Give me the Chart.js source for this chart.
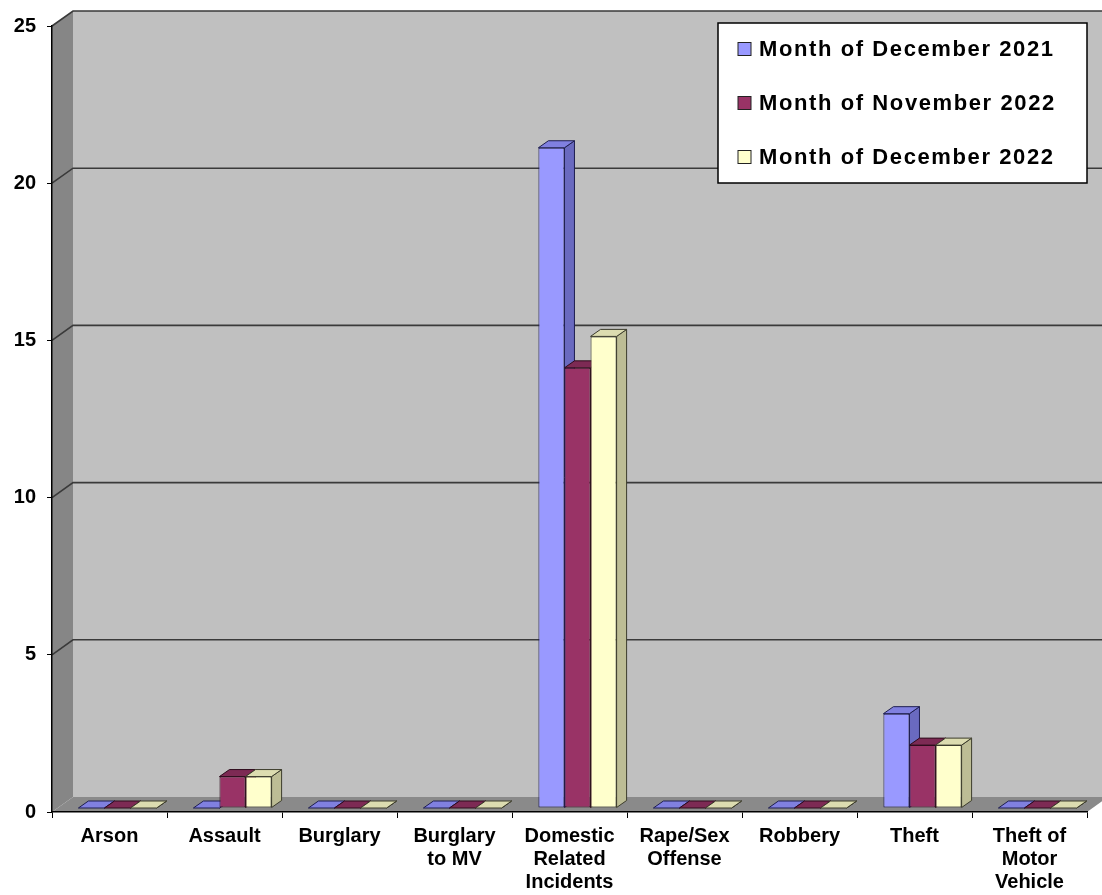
<!DOCTYPE html>
<html>
<head>
<meta charset="utf-8">
<script src="https://cdn.jsdelivr.net/npm/chart.js@4.4.1/dist/chart.umd.min.js"></script>
<style>
  html, body { margin: 0; padding: 0; background: #fff; }
  #myChart { display: block; }
</style>
</head>
<body>
<canvas id="myChart" width="1102" height="895"></canvas>
<script>
const categories = [
  ["Arson"], ["Assault"], ["Burglary"], ["Burglary", "to MV"],
  ["Domestic", "Related", "Incidents"], ["Rape/Sex", "Offense"],
  ["Robbery"], ["Theft"], ["Theft of", "Motor", "Vehicle"],
];
const seriesNames = ["Month of December 2021", "Month of November 2022", "Month of December 2022"];
const dec2021 = [0, 0, 0, 0, 21, 0, 0, 3, 0];
const nov2022 = [0, 1, 0, 0, 14, 0, 0, 2, 0];
const dec2022 = [0, 1, 0, 0, 15, 0, 0, 2, 0];
const yMin = 0, yMax = 25, yStep = 5;

// face colours: front, side, top, outline
const palette = [
  { front: "#9999FF", side: "#6A6AC0", top: "#8080E0", line: "#1E1E50" },
  { front: "#993366", side: "#6B2347", top: "#7D2A54", line: "#2E0C1C" },
  { front: "#FFFFCC", side: "#BDBD95", top: "#DCDCB0", line: "#3C3C2C" },
];

const WALL_DX = 21, WALL_DY = -15;  // depth of walls
const BAR_X = 8, BAR_Y = -4;        // bars sit a little behind the front plane
const BAR_DX = 10, BAR_DY = -7;     // depth of each bar
const FONT = "'Liberation Sans', Arial, sans-serif";

function poly(ctx, pts, fill, stroke) {
  ctx.beginPath();
  ctx.moveTo(pts[0][0], pts[0][1]);
  for (let i = 1; i < pts.length; i++) ctx.lineTo(pts[i][0], pts[i][1]);
  ctx.closePath();
  ctx.fillStyle = fill;
  ctx.fill();
  if (stroke) {
    ctx.strokeStyle = stroke;
    ctx.lineWidth = 1;
    ctx.stroke();
  }
}

const box3d = {
  id: "box3d",
  beforeDraw(chart) {
    const { ctx, chartArea: a, scales: { y } } = chart;
    ctx.save();
    ctx.fillStyle = "#fff";
    ctx.fillRect(0, 0, chart.width, chart.height);
    // back wall
    poly(ctx, [[a.left + WALL_DX, a.top + WALL_DY], [a.right + WALL_DX, a.top + WALL_DY],
      [a.right + WALL_DX, a.bottom + WALL_DY], [a.left + WALL_DX, a.bottom + WALL_DY]], "#C0C0C0");
    // side wall
    poly(ctx, [[a.left, a.bottom], [a.left, a.top], [a.left + WALL_DX, a.top + WALL_DY],
      [a.left + WALL_DX, a.bottom + WALL_DY]], "#868686");
    // floor
    poly(ctx, [[a.left, a.bottom], [a.right, a.bottom], [a.right + WALL_DX, a.bottom + WALL_DY],
      [a.left + WALL_DX, a.bottom + WALL_DY]], "#8A8A8A");
    // gridlines
    ctx.strokeStyle = "#3A3A3A";
    ctx.lineWidth = 1.6;
    for (let v = yMin + yStep; v <= yMax; v += yStep) {
      const py = y.getPixelForValue(v);
      ctx.beginPath();
      ctx.moveTo(a.left, py);
      ctx.lineTo(a.left + WALL_DX, py + WALL_DY);
      ctx.lineTo(a.right + WALL_DX, py + WALL_DY);
      ctx.stroke();
    }
    ctx.restore();
  },
  beforeDatasetsDraw(chart) {
    const ctx = chart.ctx;
    ctx.save();
    for (let i = 0; i < categories.length; i++) {
      chart.data.datasets.forEach((ds, d) => {
        const el = chart.getDatasetMeta(d).data[i];
        const c = palette[d];
        const l = el.x - el.width / 2 + BAR_X, r = el.x + el.width / 2 + BAR_X;
        const t = el.y + BAR_Y, b = el.base + BAR_Y;
        poly(ctx, [[r, t], [r + BAR_DX, t + BAR_DY], [r + BAR_DX, b + BAR_DY], [r, b]], c.side, c.line);
        poly(ctx, [[l, t], [l + BAR_DX, t + BAR_DY], [r + BAR_DX, t + BAR_DY], [r, t]], c.top, c.line);
      });
    }
    ctx.restore();
    ctx.save();
    ctx.translate(BAR_X, BAR_Y);
  },
  afterDatasetsDraw(chart) {
    chart.ctx.restore();
  },
  afterDraw(chart) {
    const ctx = chart.ctx;
    ctx.save();
    ctx.fillStyle = "#fff";
    ctx.strokeStyle = "#000";
    ctx.lineWidth = 1.5;
    ctx.fillRect(718, 23, 369, 160);
    ctx.strokeRect(718, 23, 369, 160);
    ctx.font = "bold 22px " + FONT;
    ctx.textBaseline = "middle";
    if ("letterSpacing" in ctx) ctx.letterSpacing = "1.6px";
    chart.data.datasets.forEach((ds, d) => {
      const cy = 49 + d * 54;
      ctx.fillStyle = palette[d].front;
      ctx.fillRect(738, cy - 6.5, 13, 13);
      ctx.strokeStyle = "#222";
      ctx.lineWidth = 1;
      ctx.strokeRect(738, cy - 6.5, 13, 13);
      ctx.fillStyle = "#000";
      ctx.fillText(ds.label, 759, cy + 1);
    });
    ctx.restore();
  },
};

const data = {
  labels: categories,
  datasets: [dec2021, nov2022, dec2022].map((vals, d) => ({
    label: seriesNames[d],
    data: vals,
    backgroundColor: palette[d].front,
    borderColor: palette[d].line,
    borderWidth: 1,
    borderSkipped: false,
    categoryPercentage: 0.68,
    barPercentage: 1.0,
  })),
};

const config = {
  type: "bar",
  data: data,
  plugins: [box3d],
  options: {
    responsive: false,
    devicePixelRatio: 1,
    animation: false,
    layout: { padding: { top: 26, right: 15, left: 0, bottom: 0 } },
    plugins: {
      legend: { display: false },
      title: { display: false },
      tooltip: { enabled: false },
    },
    scales: {
      x: {
        afterFit: (s) => { s.height = 83; },
        grid: { display: true, drawOnChartArea: false, drawTicks: true, tickLength: 6, color: "#000", offset: true },
        border: { display: true, color: "#000", width: 1.5 },
        ticks: {
          autoSkip: false, maxRotation: 0, minRotation: 0, padding: 7, color: "#000",
          font: { family: FONT, size: 20, weight: "bold", lineHeight: 1.15 },
        },
      },
      y: {
        min: yMin,
        max: yMax,
        afterFit: (s) => { s.width = 52; },
        grid: { display: true, drawOnChartArea: false, drawTicks: true, tickLength: 5, color: "#000" },
        border: { display: true, color: "#000", width: 1.5 },
        ticks: {
          stepSize: yStep, padding: 11, color: "#000",
          font: { family: FONT, size: 20, weight: "bold" },
        },
      },
    },
  },
};

new Chart(document.getElementById("myChart"), config);
</script>
</body>
</html>
